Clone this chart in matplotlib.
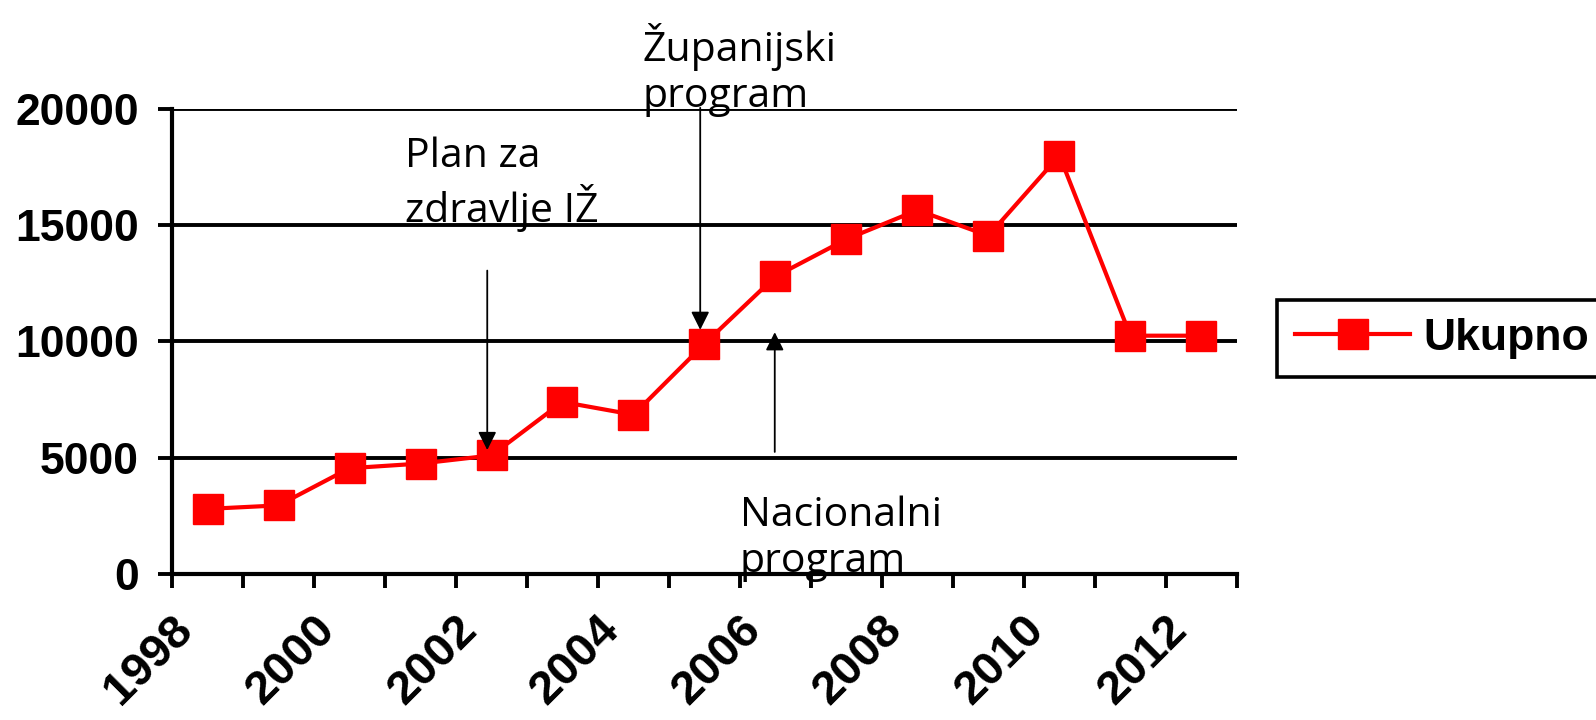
import numpy as np
import matplotlib
matplotlib.use('Agg')
import matplotlib.pyplot as plt
import matplotlib.transforms as mtransforms

# yearly totals
years = ['1998', '1999', '2000', '2001', '2002', '2003', '2004', '2005',
         '2006', '2007', '2008', '2009', '2010', '2011', '2012']
ukupno = [2800, 2950, 4550, 4750, 5100, 7400, 6850, 9900,
          12800, 14400, 15650, 14550, 18000, 10250, 10250]

# programme markers: (text, arrow x in category units, arrow start y, arrow tip y)
notes = [
    ('Plan za\nzdravlje IŽ', 3.94, 13050, 5330),
    ('Županijski\nprogram', 6.94, 20050, 10500),
    ('Nacionalni\nprogram', 7.99, 5250, 10400),
]
# where each note's last text line sits (x left, baseline y)
note_pos = [(2.78, 15140), (6.12, 20090), (7.5, 90)]

fig = plt.figure(figsize=(15.96, 7.2), dpi=100)
ax = fig.add_axes([0.1078, 0.2028, 0.775 - 0.1078, 0.8486 - 0.2028])

x = np.arange(len(years))
ax.plot(x, ukupno, color='#ff0000', lw=3, marker='s', ms=21,
        mec='#ff0000', label='Ukupno', zorder=3)

ax.set_xlim(-0.5, len(years) - 0.5)
ax.set_ylim(0, 20000)

# y axis
ax.set_yticks(np.arange(0, 20001, 5000))
ax.yaxis.grid(True, color='black', lw=2.8)
ax.set_axisbelow(True)
ax.tick_params(axis='y', length=10, width=2.8, pad=14)
for lab in ax.get_yticklabels():
    lab.set_fontfamily('Liberation Sans')
    lab.set_fontweight('bold')
    lab.set_fontsize(32)

# x axis: tick marks between categories, labels on every other year
ax.set_xticks(x[::2])
ax.set_xticklabels(years[::2], rotation=45, ha='right', va='top',
                   fontfamily='Liberation Sans', fontweight='bold', fontsize=34)
ax.set_xticks(np.arange(-0.5, len(years), 1), minor=True)
ax.tick_params(axis='x', which='major', length=0, pad=24)
ax.tick_params(axis='x', which='minor', length=10, width=2.8)
shift = mtransforms.ScaledTranslation(-6 / 100, 0, fig.dpi_scale_trans)
for lab in ax.get_xticklabels():
    lab.set_transform(lab.get_transform() + shift)

for s in ['top', 'right']:
    ax.spines[s].set_visible(False)
for s in ['left', 'bottom']:
    ax.spines[s].set_linewidth(3)

# annotations
for (txt, ax_x, y0, y1), (tx, ty) in zip(notes, note_pos):
    ax.annotate('', xy=(ax_x, y1), xytext=(ax_x, y0), annotation_clip=False,
                arrowprops=dict(arrowstyle='-|>,head_length=0.5,head_width=0.25',
                                color='black', lw=1.3, mutation_scale=22,
                                shrinkA=0, shrinkB=0), zorder=4)
    ax.text(tx, ty, txt, fontfamily='Open Sans', fontsize=29.5,
            va='baseline', linespacing=1.19, clip_on=False, zorder=5)

leg = fig.legend(loc='upper left', bbox_to_anchor=(1277 / 1596, 1 - 300 / 720),
                 borderaxespad=0, handlelength=2.6, handletextpad=0.3,
                 fancybox=False, edgecolor='black', framealpha=1,
                 prop={'family': 'Liberation Sans', 'weight': 'bold', 'size': 32})
leg.get_frame().set_linewidth(2.6)

fig.savefig('out.png', dpi=100)
